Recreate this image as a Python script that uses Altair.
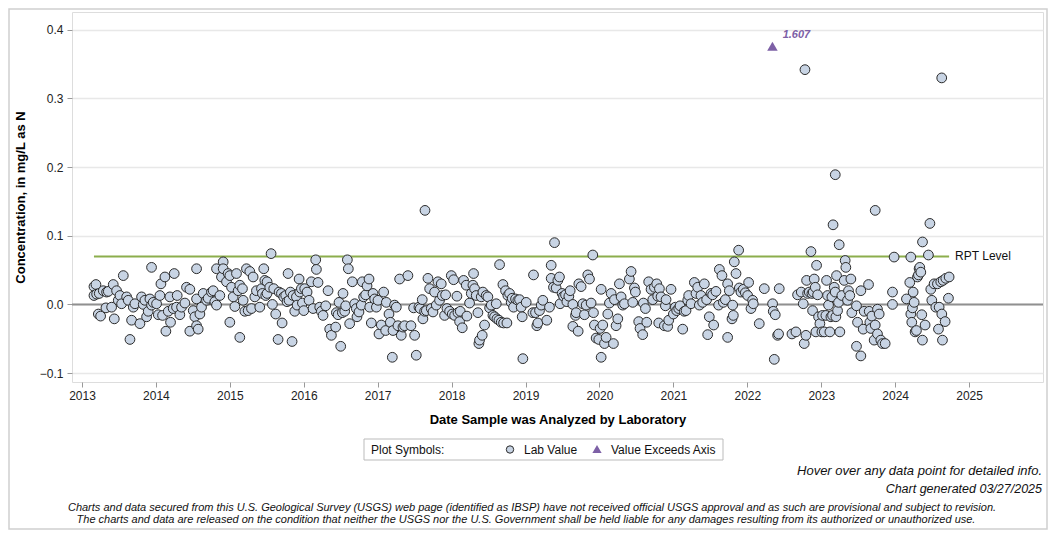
import altair as alt
import pandas as pd

# ---------------- data (decimal year, concentration mg/L as N) ----------------
lab_2013 = [(2013.162, 0.026), (2013.162, 0.013), (2013.189, 0.029), (2013.198, 0.015), (2013.221, -0.014),
            (2013.234, 0.016), (2013.252, -0.017), (2013.288, 0.020), (2013.324, -0.005), (2013.333, 0.018),
            (2013.356, 0.019), (2013.401, -0.004), (2013.423, 0.029), (2013.437, -0.021), (2013.468, 0.020),
            (2013.491, 0.006), (2013.514, 0.013), (2013.536, 0.001), (2013.559, 0.042), (2013.604, 0.011),
            (2013.626, 0.006), (2013.649, -0.051), (2013.671, -0.023), (2013.694, -0.004), (2013.716, 0.001),
            (2013.784, -0.028), (2013.806, 0.011), (2013.829, 0.000), (2013.851, 0.006), (2013.874, -0.018),
            (2013.896, -0.010), (2013.919, 0.008), (2013.941, 0.054), (2013.941, -0.001), (2013.964, 0.003)]
lab_2014 = [(2014.009, 0.001), (2014.032, -0.015), (2014.054, 0.013), (2014.068, 0.030), (2014.090, -0.016),
            (2014.122, 0.040), (2014.135, -0.039), (2014.167, -0.010), (2014.189, 0.011), (2014.198, -0.026),
            (2014.234, -0.006), (2014.248, 0.045), (2014.279, -0.004), (2014.288, 0.013), (2014.324, -0.015),
            (2014.347, -0.004), (2014.392, 0.002), (2014.414, 0.025), (2014.459, 0.022), (2014.459, -0.039),
            (2014.505, -0.009), (2014.527, -0.018), (2014.550, 0.052), (2014.550, 0.008), (2014.550, -0.031),
            (2014.572, -0.036), (2014.595, -0.014), (2014.617, -0.004), (2014.640, 0.016), (2014.685, 0.006),
            (2014.707, 0.009), (2014.752, 0.018), (2014.775, 0.020), (2014.797, 0.004), (2014.820, -0.001),
            (2014.820, 0.052), (2014.865, 0.013), (2014.887, 0.040), (2014.910, 0.062), (2014.910, 0.052),
            (2014.955, 0.033), (2014.977, 0.045)]
lab_2015 = [(2015.000, 0.042), (2015.000, -0.026), (2015.023, 0.025), (2015.045, 0.011), (2015.068, -0.003),
            (2015.090, 0.045), (2015.113, 0.020), (2015.135, 0.028), (2015.135, -0.048), (2015.171, 0.023),
            (2015.180, 0.006), (2015.203, -0.010), (2015.225, 0.052), (2015.248, -0.009), (2015.270, 0.048),
            (2015.293, -0.006), (2015.315, 0.040), (2015.338, 0.011), (2015.360, 0.020), (2015.405, -0.004),
            (2015.428, 0.023), (2015.441, 0.016), (2015.459, 0.052), (2015.473, 0.035), (2015.486, 0.013),
            (2015.504, 0.033), (2015.504, 0.016), (2015.540, 0.025), (2015.558, 0.074), (2015.576, 0.000),
            (2015.594, 0.023), (2015.621, -0.014), (2015.653, -0.051), (2015.666, 0.018), (2015.698, 0.016),
            (2015.707, -0.027), (2015.729, 0.011), (2015.756, 0.013), (2015.774, 0.004), (2015.788, 0.045),
            (2015.801, 0.006), (2015.819, 0.018), (2015.842, -0.054), (2015.856, 0.013), (2015.878, -0.010),
            (2015.901, 0.011), (2015.910, -0.001), (2015.937, 0.037), (2015.946, 0.018), (2015.968, 0.023),
            (2015.982, 0.002)]
lab_2016 = [(2016.000, -0.009), (2016.013, 0.023), (2016.045, 0.018), (2016.072, 0.006), (2016.103, 0.033),
            (2016.126, -0.006), (2016.162, 0.065), (2016.171, 0.051), (2016.193, 0.032), (2016.216, -0.004),
            (2016.238, -0.010), (2016.261, -0.016), (2016.297, -0.002), (2016.329, 0.020), (2016.351, -0.036),
            (2016.374, -0.045), (2016.432, -0.033), (2016.441, -0.012), (2016.464, -0.015), (2016.477, 0.003),
            (2016.500, -0.061), (2016.522, -0.012), (2016.531, 0.016), (2016.554, -0.010), (2016.567, -0.002),
            (2016.590, 0.065), (2016.603, 0.052), (2016.621, -0.028), (2016.657, 0.033), (2016.689, 0.001),
            (2016.711, -0.006), (2016.720, -0.018), (2016.747, -0.011), (2016.779, -0.001), (2016.792, 0.033),
            (2016.810, 0.011), (2016.837, 0.014), (2016.856, 0.027), (2016.883, 0.037), (2016.892, -0.004),
            (2016.914, -0.027), (2016.937, 0.016), (2016.959, 0.008), (2016.982, -0.004)]
lab_2017 = [(2017.004, 0.006), (2017.018, -0.043), (2017.049, -0.030), (2017.081, 0.018), (2017.108, -0.038),
            (2017.117, 0.003), (2017.153, -0.014), (2017.171, -0.026), (2017.198, -0.077), (2017.207, -0.038),
            (2017.229, -0.001), (2017.252, -0.004), (2017.274, -0.031), (2017.297, 0.037), (2017.319, -0.045),
            (2017.342, -0.033), (2017.364, -0.031), (2017.409, 0.042), (2017.450, -0.031), (2017.486, -0.005),
            (2017.500, -0.045), (2017.522, -0.074), (2017.558, -0.004), (2017.576, -0.006), (2017.603, 0.007),
            (2017.612, -0.021), (2017.635, -0.010), (2017.640, 0.137), (2017.658, -0.009), (2017.680, 0.038),
            (2017.703, 0.023), (2017.725, -0.006), (2017.748, -0.011), (2017.770, 0.018), (2017.793, -0.001),
            (2017.815, 0.033), (2017.837, 0.006), (2017.860, 0.030), (2017.874, 0.013), (2017.905, -0.016),
            (2017.919, 0.014), (2017.937, -0.006), (2017.973, -0.010), (2017.996, 0.042)]
lab_2018 = [(2018.009, -0.014), (2018.027, 0.036), (2018.041, -0.016), (2018.072, 0.012), (2018.086, -0.012),
            (2018.108, -0.025), (2018.117, -0.010), (2018.144, -0.034), (2018.162, 0.035), (2018.198, 0.028),
            (2018.207, -0.017), (2018.243, 0.002), (2018.266, 0.016), (2018.288, 0.028), (2018.297, 0.045),
            (2018.311, 0.023), (2018.333, 0.013), (2018.356, -0.012), (2018.369, -0.057), (2018.378, -0.052),
            (2018.401, 0.011), (2018.414, -0.045), (2018.423, 0.018), (2018.446, -0.030), (2018.468, 0.013),
            (2018.491, 0.011), (2018.514, -0.005), (2018.536, -0.001), (2018.559, -0.016), (2018.581, -0.018),
            (2018.604, 0.001), (2018.613, -0.021), (2018.640, -0.023), (2018.649, 0.058), (2018.671, -0.026),
            (2018.694, 0.029), (2018.703, -0.027), (2018.730, 0.020), (2018.748, -0.027), (2018.761, 0.013),
            (2018.784, 0.016), (2018.806, 0.003), (2018.820, 0.009), (2018.838, -0.004), (2018.865, 0.008),
            (2018.896, 0.006), (2018.919, 0.007), (2018.941, -0.004), (2018.955, -0.018), (2018.964, -0.079)]
lab_2019 = [(2019.009, 0.003), (2019.099, -0.012), (2019.108, 0.043), (2019.135, -0.012), (2019.153, -0.031),
            (2019.167, -0.027), (2019.189, -0.009), (2019.212, -0.001), (2019.234, 0.006), (2019.288, -0.023),
            (2019.324, -0.004), (2019.347, 0.057), (2019.347, 0.038), (2019.378, 0.025), (2019.392, 0.090),
            (2019.414, 0.024), (2019.437, 0.035), (2019.459, 0.040), (2019.468, 0.001), (2019.495, 0.016),
            (2019.514, 0.012), (2019.541, 0.014), (2019.559, 0.004), (2019.586, 0.012), (2019.604, 0.020),
            (2019.640, 0.000), (2019.640, -0.032), (2019.676, -0.016), (2019.685, -0.012), (2019.712, -0.039),
            (2019.721, 0.030), (2019.752, 0.026), (2019.775, 0.001), (2019.797, -0.015), (2019.820, -0.001),
            (2019.842, 0.043), (2019.865, 0.037), (2019.887, 0.002), (2019.910, 0.072), (2019.919, -0.012),
            (2019.932, -0.030), (2019.955, -0.049), (2019.991, -0.051)]
lab_2020 = [(2020.009, -0.035), (2020.023, -0.077), (2020.023, 0.022), (2020.045, -0.030), (2020.068, -0.057),
            (2020.090, -0.048), (2020.113, -0.014), (2020.135, 0.002), (2020.158, 0.016), (2020.189, -0.057),
            (2020.203, 0.007), (2020.225, -0.031), (2020.248, -0.021), (2020.270, 0.030), (2020.293, 0.011),
            (2020.315, -0.001), (2020.338, 0.001), (2020.405, 0.037), (2020.428, 0.048), (2020.450, 0.003),
            (2020.473, 0.024), (2020.486, 0.018), (2020.531, -0.025), (2020.549, -0.035), (2020.585, -0.044),
            (2020.594, 0.002), (2020.622, -0.006), (2020.640, -0.026), (2020.666, 0.033), (2020.698, 0.022),
            (2020.721, 0.007), (2020.743, 0.025), (2020.775, 0.030), (2020.788, 0.012), (2020.802, -0.027),
            (2020.811, 0.023), (2020.833, 0.011), (2020.878, -0.031), (2020.892, -0.002), (2020.901, 0.007),
            (2020.923, -0.032), (2020.937, -0.023), (2020.968, 0.022)]
lab_2021 = [(2021.000, -0.014), (2021.027, -0.004), (2021.045, -0.009), (2021.072, -0.006), (2021.090, -0.002),
            (2021.126, -0.036), (2021.148, -0.010), (2021.171, -0.009), (2021.194, 0.006), (2021.207, 0.013),
            (2021.239, 0.001), (2021.284, 0.032), (2021.306, 0.016), (2021.329, 0.025), (2021.351, -0.001),
            (2021.373, 0.013), (2021.396, 0.003), (2021.419, 0.030), (2021.450, 0.007), (2021.464, -0.044),
            (2021.486, -0.018), (2021.509, 0.016), (2021.531, 0.014), (2021.545, -0.030), (2021.576, 0.019),
            (2021.612, -0.001), (2021.622, 0.051), (2021.657, 0.042), (2021.676, 0.003), (2021.703, 0.007),
            (2021.734, -0.048), (2021.734, 0.030), (2021.757, 0.020), (2021.793, -0.021), (2021.802, -0.001),
            (2021.811, -0.016), (2021.824, 0.062), (2021.847, 0.045), (2021.883, 0.079), (2021.892, 0.024),
            (2021.914, 0.018), (2021.946, 0.022), (2021.973, 0.017)]
lab_2022 = [(2022.005, 0.013), (2022.018, 0.032), (2022.050, -0.006), (2022.072, 0.006), (2022.081, 0.001),
            (2022.162, -0.028), (2022.230, 0.023), (2022.342, 0.001), (2022.351, -0.010), (2022.365, -0.080),
            (2022.378, -0.015), (2022.410, -0.045), (2022.423, -0.043), (2022.432, 0.023), (2022.604, -0.043),
            (2022.658, -0.040), (2022.680, 0.014), (2022.730, 0.018), (2022.757, 0.001), (2022.770, -0.057),
            (2022.780, 0.342), (2022.793, -0.045), (2022.802, 0.035), (2022.816, 0.016), (2022.838, 0.018),
            (2022.861, 0.077), (2022.874, 0.016), (2022.883, -0.009), (2022.892, 0.018), (2022.905, 0.037),
            (2022.919, 0.025), (2022.928, -0.040), (2022.937, 0.057), (2022.951, 0.014), (2022.964, -0.018),
            (2022.982, -0.028)]
lab_2023 = [(2023.009, -0.040), (2023.018, -0.016), (2023.041, -0.040), (2023.063, -0.016), (2023.072, 0.035),
            (2023.086, 0.013), (2023.099, -0.001), (2023.117, -0.040), (2023.131, -0.018), (2023.144, 0.011),
            (2023.153, -0.016), (2023.160, 0.116), (2023.176, 0.025), (2023.189, 0.018), (2023.190, 0.189),
            (2023.198, -0.018), (2023.207, 0.042), (2023.221, -0.009), (2023.234, 0.003), (2023.243, 0.087),
            (2023.252, -0.040), (2023.279, 0.013), (2023.311, 0.035), (2023.324, 0.064), (2023.333, 0.054),
            (2023.356, 0.006), (2023.369, 0.020), (2023.387, 0.013), (2023.401, 0.037), (2023.414, -0.012),
            (2023.477, -0.002), (2023.477, -0.061), (2023.491, -0.026), (2023.536, 0.020), (2023.536, -0.075),
            (2023.568, -0.036), (2023.581, -0.010), (2023.640, 0.029), (2023.649, -0.010), (2023.658, -0.026),
            (2023.671, -0.035), (2023.685, -0.017), (2023.716, -0.052), (2023.730, 0.137), (2023.730, -0.030),
            (2023.761, -0.007), (2023.761, -0.043), (2023.784, -0.014), (2023.806, -0.052), (2023.829, -0.057),
            (2023.865, -0.057), (2023.964, 0.018), (2023.964, 0.000), (2023.986, 0.069)]
lab_2024 = [(2024.153, 0.008), (2024.198, 0.032), (2024.212, 0.069), (2024.212, -0.014), (2024.225, -0.026),
            (2024.234, -0.005), (2024.243, 0.018), (2024.257, 0.003), (2024.270, -0.040), (2024.288, -0.038),
            (2024.302, 0.040), (2024.315, 0.043), (2024.324, 0.052), (2024.333, 0.054), (2024.347, 0.047),
            (2024.360, -0.015), (2024.369, -0.052), (2024.370, 0.091), (2024.405, -0.030), (2024.450, 0.072),
            (2024.470, 0.118), (2024.482, 0.022), (2024.496, 0.006), (2024.527, 0.030), (2024.550, -0.004),
            (2024.572, 0.030), (2024.586, -0.036), (2024.595, -0.004), (2024.617, 0.033), (2024.630, 0.330),
            (2024.631, -0.014), (2024.640, -0.052), (2024.649, 0.035), (2024.676, -0.025), (2024.685, 0.038),
            (2024.721, 0.009), (2024.730, 0.040)]

exceed_dates = [2022.34]
exceed_values = [1.607]
exceed_labels = ["1.607"]
AXIS_CAP = 0.376          # where values above the axis are drawn
RPT_LEVEL = 0.07

x_ticks = list(range(2013, 2026))
y_ticks = [-0.1, 0.0, 0.1, 0.2, 0.3, 0.4]
X_DOMAIN = [2012.865, 2026.0]
Y_DOMAIN = [-0.113, 0.426]

# ---------------- build tables ----------------
rows = []
for grp in [lab_2013, lab_2014, lab_2015, lab_2016, lab_2017, lab_2018, lab_2019,
            lab_2020, lab_2021, lab_2022, lab_2023, lab_2024]:
    rows.extend(grp)
df = pd.DataFrame(rows, columns=["year", "value"])
ex = pd.DataFrame({"year": exceed_dates, "value": exceed_values,
                   "label": exceed_labels, "plot_y": [AXIS_CAP] * len(exceed_dates)})
rpt = pd.DataFrame({"start": [df["year"].min()], "end": [df["year"].max()],
                    "level": [RPT_LEVEL], "label": ["RPT Level"]})

W, H = 971, 370
FONT = "Liberation Sans"
xs = alt.Scale(domain=X_DOMAIN, nice=False, zero=False)
ys = alt.Scale(domain=Y_DOMAIN, nice=False, zero=False)

x_axis = alt.Axis(values=x_ticks, format="d", title="Date Sample was Analyzed by Laboratory",
                  grid=False, domain=False, tickSize=5, tickColor="#999999", labelPadding=3,
                  labelFontSize=12, labelColor="#222222", titleFontSize=13, titleFontWeight="bold",
                  titleColor="#000000", titleX=W / 2, titleY=37, titleBaseline="middle", titleAlign="center")
y_axis = alt.Axis(values=y_ticks, format=".1f", title="Concentration, in mg/L as N",
                  grid=True, gridColor="#e8e8e8", gridWidth=1.5, domain=False, tickSize=5,
                  tickColor="#999999", labelPadding=4, labelFontSize=12, labelColor="#222222",
                  titleFontSize=13, titleFontWeight="bold", titleColor="#000000",
                  titleX=-52, titleY=H / 2, titleAngle=-90, titleBaseline="middle", titleAlign="center")

base_axes = alt.Chart(df).mark_point(opacity=0).encode(
    x=alt.X("year:Q", scale=xs, axis=x_axis),
    y=alt.Y("value:Q", scale=ys, axis=y_axis),
)

zero_line = alt.Chart(pd.DataFrame({"z": [0.0]})).mark_rule(color="#909090", strokeWidth=2).encode(
    y=alt.Y("z:Q", scale=ys), x=alt.value(0), x2=alt.value(W))

rpt_line = alt.Chart(rpt).mark_rule(color="#8cae4c", strokeWidth=2).encode(
    x=alt.X("start:Q", scale=xs), x2="end:Q", y=alt.Y("level:Q", scale=ys))
rpt_text = alt.Chart(rpt).mark_text(align="left", baseline="middle", dx=6, fontSize=12,
                                    color="#111111", font=FONT).encode(
    x=alt.X("end:Q", scale=xs), y=alt.Y("level:Q", scale=ys), text="label:N")

points = alt.Chart(df).mark_circle(size=95, color="#c8d4e4", stroke="#2a2a2a",
                                   strokeWidth=1, opacity=1).encode(
    x=alt.X("year:Q", scale=xs), y=alt.Y("value:Q", scale=ys),
    tooltip=[alt.Tooltip("year:Q", format=".2f"), alt.Tooltip("value:Q", format=".3f")])

tri = alt.Chart(ex).mark_point(shape="triangle-up", filled=True, color="#7d60a6", size=110, opacity=1).encode(
    x=alt.X("year:Q", scale=xs), y=alt.Y("plot_y:Q", scale=ys),
    tooltip=[alt.Tooltip("year:Q", format=".2f"), alt.Tooltip("value:Q", format=".3f")])
tri_text = alt.Chart(ex).mark_text(dx=24, dy=-11, fontSize=11, fontWeight="bold", fontStyle="italic",
                                   color="#7d60a6", font=FONT).encode(
    x=alt.X("year:Q", scale=xs), y=alt.Y("plot_y:Q", scale=ys), text="label:N")

# ---------------- legend box ----------------
one = pd.DataFrame({"k": [0]})
leg_box = alt.Chart(one).mark_rect(fill="white", stroke="#bbbbbb", strokeWidth=1).encode(
    x=alt.value(292), x2=alt.value(651), y=alt.value(427), y2=alt.value(448))
leg_t1 = alt.Chart(one).mark_text(text="Plot Symbols:", align="left", baseline="middle", fontSize=12,
                                  font=FONT, color="#111111").encode(x=alt.value(299), y=alt.value(437.5))
leg_c = alt.Chart(one).mark_circle(size=55, color="#c8d4e4", stroke="#2a2a2a", strokeWidth=1, opacity=1).encode(
    x=alt.value(438), y=alt.value(437.5))
leg_t2 = alt.Chart(one).mark_text(text="Lab Value", align="left", baseline="middle", fontSize=12,
                                  font=FONT, color="#111111").encode(x=alt.value(452), y=alt.value(437.5))
leg_tri = alt.Chart(one).mark_point(shape="triangle-up", filled=True, color="#7d60a6", size=85, opacity=1).encode(
    x=alt.value(525), y=alt.value(437))
leg_t3 = alt.Chart(one).mark_text(text="Value Exceeds Axis", align="left", baseline="middle", fontSize=12,
                                  font=FONT, color="#111111").encode(x=alt.value(539), y=alt.value(437.5))

# ---------------- notes ----------------
note1 = alt.Chart(one).mark_text(text="Hover over any data point for detailed info.", align="right",
                                 baseline="middle", fontSize=13, fontStyle="italic", font=FONT,
                                 color="#111111").encode(x=alt.value(970), y=alt.value(459))
note2 = alt.Chart(one).mark_text(text="Chart generated 03/27/2025", align="right",
                                 baseline="middle", fontSize=12.5, fontStyle="italic", font=FONT,
                                 color="#111111").encode(x=alt.value(970), y=alt.value(477))
foot1 = alt.Chart(one).mark_text(
    text="Charts and data secured from this U.S. Geological Survey (USGS) web page (identified as IBSP) have not received official USGS approval and as such are provisional and subject to revision.",
    align="center", baseline="middle", fontSize=11, fontStyle="italic", font=FONT,
    color="#111111").encode(x=alt.value(460), y=alt.value(496))
foot2 = alt.Chart(one).mark_text(
    text="The charts and data are released on the condition that neither the USGS nor the U.S. Government shall be held liable for any damages resulting from its authorized or unauthorized use.",
    align="center", baseline="middle", fontSize=11, fontStyle="italic", font=FONT,
    color="#111111").encode(x=alt.value(454), y=alt.value(508))

border = alt.Chart(one).mark_rect(fill=None, stroke="#d0d0d0", strokeWidth=1.5).encode(
    x=alt.value(-63), x2=alt.value(W + 4), y=alt.value(-3), y2=alt.value(H + 147))

chart = alt.layer(
    base_axes, zero_line, rpt_line, rpt_text, points, tri, tri_text,
    leg_box, leg_t1, leg_c, leg_t2, leg_tri, leg_t3, note1, note2, foot1, foot2, border
).properties(
    width=W, height=H,
    autosize=alt.AutoSizeParams(type="none"),
    padding={"left": 64, "top": 4, "right": 5, "bottom": 148},
    background="white",
).configure_view(
    stroke="#a0a0a0", strokeWidth=1.5
).configure(
    font=FONT
)

chart.save("out.html", embed_options={"renderer": "svg", "actions": False})
